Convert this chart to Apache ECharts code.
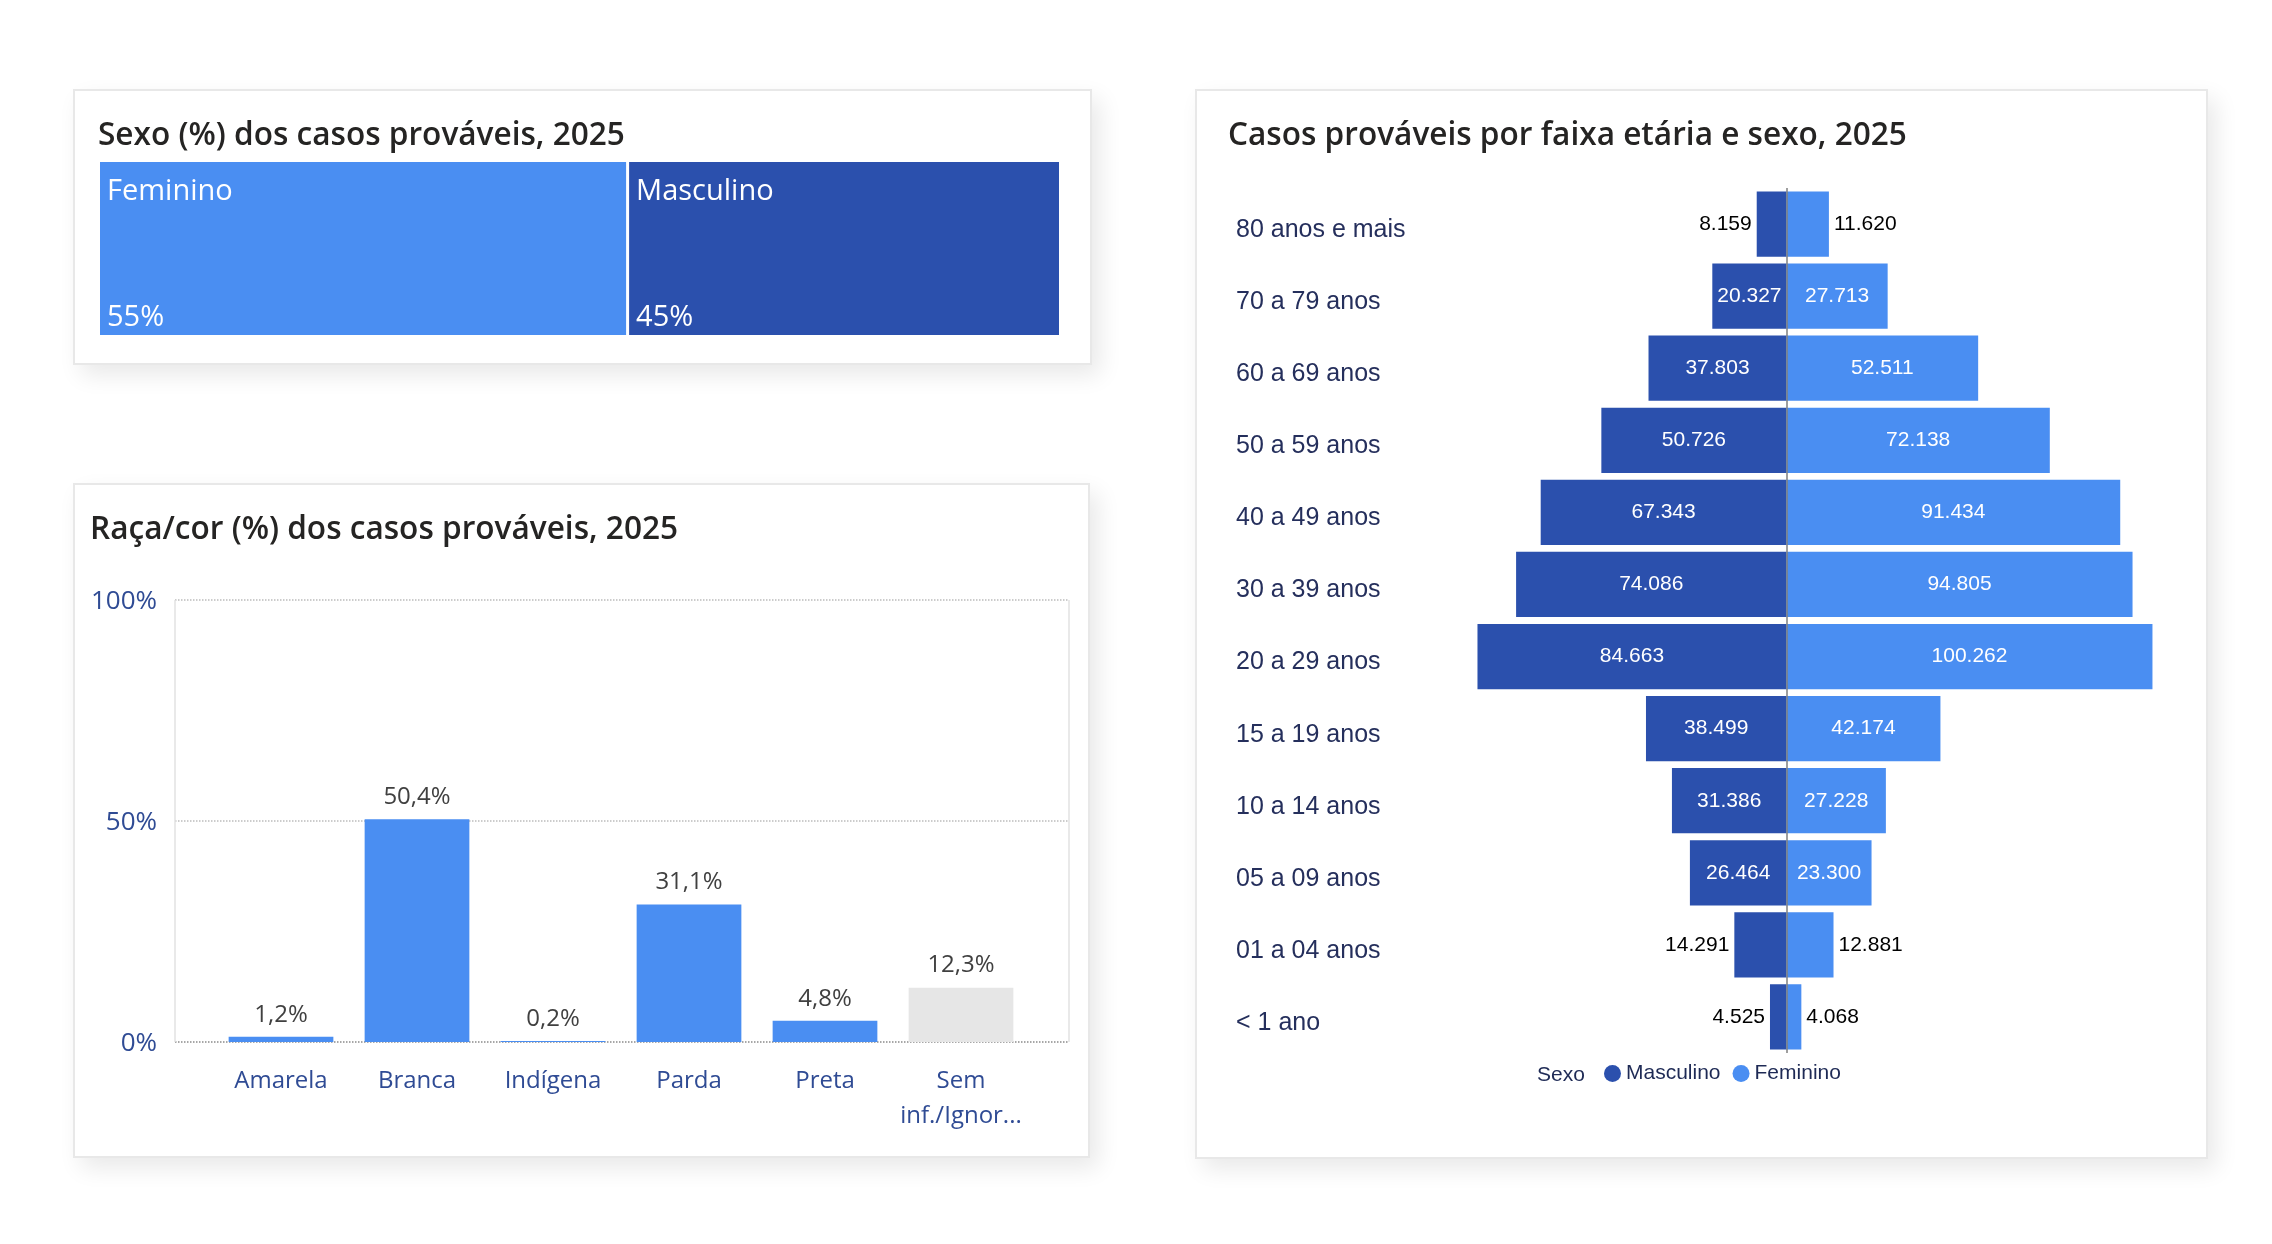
<!DOCTYPE html>
<html>
<head>
<meta charset="utf-8">
<script src="https://cdn.jsdelivr.net/npm/echarts@6/dist/echarts.min.js"></script>
<style>
    body { margin: 0; background: #fff; }
    .card {
        position: absolute;
        background: #fff;
        border: 2px solid #e8e8e8;
        box-shadow: 8px 10px 22px rgba(0, 0, 0, 0.09);
    }
    #main {
        position: absolute;
        left: 0;
        top: 0;
        width: 2272px;
        height: 1244px;
    }
</style>
</head>
<body>
<div class="card" style="left:73px;top:89px;width:1015px;height:272px"></div>
<div class="card" style="left:73px;top:483px;width:1013px;height:671px"></div>
<div class="card" style="left:1195px;top:89px;width:1009px;height:1066px"></div>
<div id="main"></div>

<script>
    // sexo (%)
    const sexNames = ['Feminino', 'Masculino'];
    const sexShares = [55, 45];

    // raça/cor (%)
    const raceCats = ['Amarela', 'Branca', 'Indígena', 'Parda', 'Preta', 'Sem\ninf./Ignor...'];
    const racePct = [1.2, 50.4, 0.2, 31.1, 4.8, 12.3];
    const raceTicks = [0, 50, 100];

    // faixa etária x sexo
    const ageGroups = ['80 anos e mais', '70 a 79 anos', '60 a 69 anos', '50 a 59 anos', '40 a 49 anos',
        '30 a 39 anos', '20 a 29 anos', '15 a 19 anos', '10 a 14 anos', '05 a 09 anos', '01 a 04 anos', '< 1 ano'];
    const maleCases = [8159, 20327, 37803, 50726, 67343, 74086, 84663, 38499, 31386, 26464, 14291, 4525];
    const femaleCases = [11620, 27713, 52511, 72138, 91434, 94805, 100262, 42174, 27228, 23300, 12881, 4068];

    const DARK = '#2B50AD';
    const LIGHT = '#4A8EF2';
    const titleFont = 'Open Sans';
    const pyrFont = 'Liberation Sans';

    function fmt(v) {
        return String(Math.abs(v)).replace(/\B(?=(\d{3})+(?!\d))/g, '.');
    }

    // rótulos pequenos ficam fora da barra
    function pyrData(arr, sign) {
        return arr.map(function (v) {
            let item = {value: sign * v};
            if (v < 16000) {
                item.label = {position: sign < 0 ? 'left' : 'right', color: '#000', distance: 5};
            }
            return item;
        });
    }

    let myChart = echarts.init(document.getElementById('main'));

    let titleStyle = {fontFamily: titleFont, fontWeight: 600, fontSize: 31.6, lineHeight: 40, color: '#252423'};

    let option = {
        animation: false,
        title: [
            {text: 'Sexo (%) dos casos prováveis, 2025', left: 98, top: 116, padding: 0, textStyle: titleStyle},
            {text: 'Raça/cor (%) dos casos prováveis, 2025', left: 90, top: 510, padding: 0, textStyle: titleStyle},
            {text: 'Casos prováveis por faixa etária e sexo, 2025', left: 1228, top: 116, padding: 0, textStyle: titleStyle},
            {
                text: 'Sexo',
                left: 1537, top: 1063, padding: 0,
                textStyle: {fontFamily: pyrFont, fontWeight: 'normal', fontSize: 21, lineHeight: 24, color: '#1e2a55'}
            }
        ],
        legend: {
            data: ['Masculino', 'Feminino'],
            left: 1604, top: 1063,
            icon: 'circle',
            itemWidth: 17, itemHeight: 17,
            itemGap: 12,
            padding: 0,
            textStyle: {fontFamily: pyrFont, fontSize: 21, color: '#1e2a55'}
        },
        grid: [
            {left: 175, top: 600, width: 894, height: 442},
            {left: 213, top: 600, width: 816, height: 442},
            {left: 1385, top: 188, width: 803, height: 865}
        ],
        xAxis: [
            {
                gridIndex: 0, type: 'value', min: 0, max: 1, interval: 1,
                axisLine: {show: false}, axisTick: {show: false}, axisLabel: {show: false},
                splitLine: {show: true, lineStyle: {color: '#e2e2e2', width: 1.5}}
            },
            {
                gridIndex: 1, type: 'category', data: raceCats,
                axisTick: {show: false},
                axisLine: {show: false},
                axisLabel: {
                    color: '#2f4b94', fontFamily: titleFont, fontSize: 24, margin: 22, lineHeight: 35,
                    interval: 0
                }
            },
            {
                gridIndex: 2, type: 'value', min: -110000, max: 110000, show: false,
                splitLine: {show: false}
            }
        ],
        yAxis: [
            {
                gridIndex: 0, type: 'value',
                min: raceTicks[0], max: raceTicks[raceTicks.length - 1], interval: raceTicks[1] - raceTicks[0],
                axisLine: {show: false}, axisTick: {show: false},
                axisLabel: {
                    formatter: '{value}%', color: '#2f4b94', fontFamily: titleFont, fontSize: 26, margin: 18,
                    verticalAlign: 'top', lineHeight: 4
                },
                splitLine: {lineStyle: {color: ['#8a8a8a', '#bcbcbc', '#bcbcbc'], type: 'dotted', width: 1.5}}
            },
            {
                gridIndex: 1, type: 'value', min: 0, max: 100, show: false,
                splitLine: {show: false}
            },
            {
                gridIndex: 2, type: 'category', data: ageGroups, inverse: true,
                axisLine: {show: false}, axisTick: {show: false},
                axisLabel: {
                    align: 'left', margin: 149, verticalAlign: 'top', lineHeight: 12,
                    color: '#252f5c', fontFamily: pyrFont, fontSize: 25
                }
            }
        ],
        series: [
            {
                type: 'treemap',
                left: 100, top: 162, width: 959, height: 173,
                roam: false, nodeClick: false,
                breadcrumb: {show: false},
                levels: [{itemStyle: {gapWidth: 3, borderWidth: 0}}],
                label: {
                    show: true,
                    position: 'insideTopLeft',
                    distance: 0,
                    padding: [0, 0, 0, 7],
                    formatter: function (p) {
                        return '{n|' + p.name + '}\n{v|' + p.value + '%}';
                    },
                    rich: {
                        n: {fontFamily: titleFont, fontSize: 29, lineHeight: 60, color: '#fff'},
                        v: {fontFamily: titleFont, fontSize: 29, lineHeight: 110, verticalAlign: 'bottom', color: '#fff'}
                    }
                },
                data: sexNames.map(function (n, i) {
                    return {name: n, value: sexShares[i], itemStyle: {color: i === 0 ? LIGHT : DARK}};
                })
            },
            {
                type: 'bar',
                xAxisIndex: 1, yAxisIndex: 1,
                barCategoryGap: '23%',
                data: racePct.map(function (v, i) {
                    return {value: v, itemStyle: {color: i === racePct.length - 1 ? '#e6e6e6' : LIGHT}};
                }),
                label: {
                    show: true, position: 'top', distance: 10,
                    fontFamily: titleFont, fontSize: 24, color: '#404040',
                    formatter: function (p) {
                        return p.value.toFixed(1).replace('.', ',') + '%';
                    }
                }
            },
            {
                name: 'Masculino',
                type: 'bar',
                xAxisIndex: 2, yAxisIndex: 2,
                stack: 'piramide',
                color: DARK,
                barCategoryGap: '9.5%',
                data: pyrData(maleCases, -1),
                label: {
                    show: true, position: 'inside', color: '#fff',
                    fontFamily: pyrFont, fontSize: 21,
                    formatter: function (p) { return fmt(p.value); }
                },
                markLine: {
                    silent: true, symbol: 'none',
                    label: {show: false},
                    lineStyle: {color: '#7f7f7f', type: 'solid', width: 1.5},
                    data: [{xAxis: 0}]
                }
            },
            {
                name: 'Feminino',
                type: 'bar',
                xAxisIndex: 2, yAxisIndex: 2,
                stack: 'piramide',
                color: LIGHT,
                barCategoryGap: '9.5%',
                data: pyrData(femaleCases, 1),
                label: {
                    show: true, position: 'inside', color: '#fff',
                    fontFamily: pyrFont, fontSize: 21,
                    formatter: function (p) { return fmt(p.value); }
                }
            }
        ]
    };

    myChart.setOption(option);
</script>
</body>
</html>
